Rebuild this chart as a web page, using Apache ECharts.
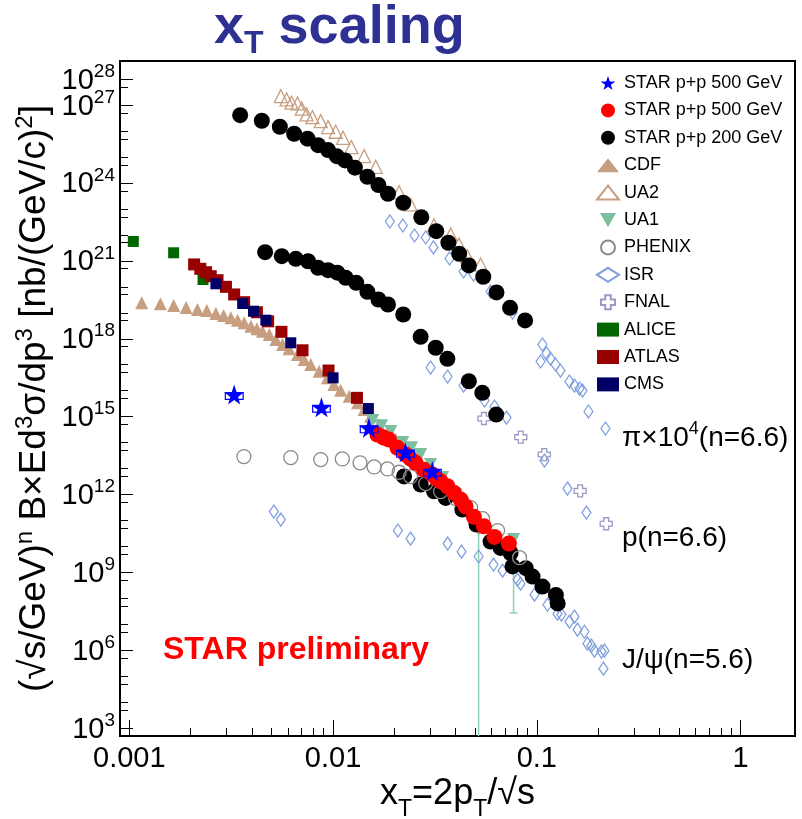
<!DOCTYPE html>
<html>
<head>
<meta charset="utf-8">
<script src="https://cdn.jsdelivr.net/npm/echarts@6/dist/echarts.min.js"></script>
<style>
  html, body { margin: 0; padding: 0; background: #fff; }
  #c { width: 802px; height: 819px; }
</style>
</head>
<body>
<div id="c"></div>
<script>
// Points are [x_T, (sqrt(s)/GeV)^n * B * E d3sigma/dp3]
const starStar500 = [[0.00327,7.1e15],[0.00877,2.3e15],[0.0150,3.7e14],[0.0227,4.25e13],[0.0307,7.9e12]];
// systematic boxes of the starred points: [xLow, xHigh, yLow, yHigh]
const starStar500Sys = [[0.00296,0.00362,4.6e15,8.5e15],[0.00794,0.00969,1.5e15,2.75e15],[0.0136,0.0166,2.4e14,4.4e14],[0.0205,0.0251,2.75e13,5.1e13],[0.0278,0.0339,5.1e12,9.4e12]];
const starRed500 = [[0.0165,2.04e14],[0.0177,1.56e14],[0.0188,1.31e14],[0.0207,6.3e13],[0.0227,3.46e13],[0.0240,2.43e13],[0.0254,1.66e13],[0.0279,9.1e12],[0.0307,5.9e12],[0.0322,4.1e12],[0.0337,3.24e12],[0.0364,2.08e12],[0.0392,1.16e12],[0.0423,6.4e11],[0.0447,3.52e11],[0.0491,1.38e11],[0.0550,5.97e10],[0.0620,2.33e10],[0.0729,1.29e10]];
const star200Pion = [[0.00350,4.1e26],[0.00447,2.5e26],[0.00548,1.47e26],[0.00644,7.9e25],[0.00749,5.1e25],[0.00844,2.87e25],[0.00945,1.85e25],[0.01043,1.08e25],[0.01145,7.4e24],[0.0128,3.9e24],[0.01474,1.74e24],[0.0167,8.3e23],[0.0186,3.85e23],[0.0221,1.73e23],[0.0271,4.8e22],[0.0321,1.39e22],[0.0368,5.0e21],[0.0416,1.87e21],[0.0464,6.7e20],[0.0546,2.44e20],[0.0634,6.1e19],[0.0739,1.55e19],[0.0876,5.1e18]];
const star200Proton = [[0.00464,2.16e21],[0.0056,1.52e21],[0.00656,1.2e21],[0.00754,9.7e20],[0.00844,5.4e20],[0.00945,4.4e20],[0.0105,3.5e20],[0.01154,2.23e20],[0.0130,1.43e20],[0.01474,6.4e19],[0.0167,3.25e19],[0.0186,2.09e19],[0.0221,8.6e18],[0.0269,1.19e18],[0.0319,4.5e17],[0.0364,1.69e17],[0.0464,2.31e16],[0.0540,8.3e15],[0.0632,1.2e15]];
const star200Jpsi = [[0.0223,5.0e12],[0.0269,2.42e12],[0.0313,1.33e12],[0.0357,7.4e11],[0.0431,2.63e11],[0.0506,6.95e10],[0.0593,1.54e10],[0.0664,8.8e9],[0.0743,5.6e9],[0.0760,1.7e9],[0.0883,1.46e9],[0.0953,6.9e8],[0.1066,2.84e8],[0.124,1.36e8],[0.1266,6.4e7]];
const cdf = [[0.00115,2.43e19],[0.00142,2.22e19],[0.00165,1.91e19],[0.0019,1.6e19],[0.00216,1.34e19],[0.0024,1.22e19],[0.00266,9.4e18],[0.0029,7.9e18],[0.00315,6.4e18],[0.0034,5.2e18],[0.00366,4.1e18],[0.00395,3.04e18],[0.00423,2.42e18],[0.0045,1.95e18],[0.00486,1.46e18],[0.00524,9.4e17],[0.00565,6.0e17],[0.00608,4.1e17],[0.00669,2.47e17],[0.00721,1.58e17],[0.00777,1.02e17],[0.00854,5.6e16],[0.00939,3.13e16],[0.0101,1.73e16],[0.0109,1.04e16],[0.012,6.1e15],[0.0132,3.4e15],[0.0142,1.88e15],[0.0153,1.04e15],[0.0168,4.95e14],[0.0185,2.37e14],[0.0203,1.31e14]];
const ua2 = [[0.00554,2.2e27],[0.00591,1.66e27],[0.00625,1.24e27],[0.00669,1.16e27],[0.00702,7.3e26],[0.00741,4.4e26],[0.00792,3.44e26],[0.0087,2.42e26],[0.00945,1.42e26],[0.0103,9.4e25],[0.0112,5.5e25],[0.0123,2.4e25],[0.0142,1.08e25],[0.0162,4.2e24],[0.0211,4.4e23],[0.024,1.49e23],[0.0313,2.37e22],[0.0378,1.04e22],[0.0415,4.3e21],[0.0456,1.52e21],[0.053,7.3e20]];
const ua1 = [[0.01565,7.1e14],[0.0173,4.5e14],[0.0192,2.67e14],[0.022,1.0e14],[0.0243,6.4e13],[0.0269,3.46e13],[0.0301,1.43e13],[0.0345,4.5e12],[0.04,1.0e12],[0.0452,2.63e11],[0.0518,4.5e10],[0.0769,1.84e10]];
// [x_T, lower, upper, draw end cap]
const ua1Errors = [[0.0518,500,4.5e10,0],[0.0769,2.75e7,1.84e10,1]];
const phenix = [[0.00365,2.9e13],[0.0062,2.65e13],[0.0087,2.22e13],[0.0111,2.36e13],[0.01356,1.66e13],[0.0159,1.16e13],[0.0185,9.7e12],[0.0211,7.2e12],[0.024,4.9e12],[0.0285,2.64e12],[0.0337,1.3e12],[0.04,7.0e11],[0.0473,3.14e11],[0.0542,1.18e11],[0.0642,4.1e10],[0.0823,3.7e9]];
const isrPion = [[0.019,3.3e22],[0.022,2.31e22],[0.0251,9.5e21],[0.0285,8.0e21],[0.0311,3.3e21],[0.0373,1.24e21],[0.0437,3.9e20],[0.0489,2.99e20],[0.0593,6.6e19],[0.076,1.03e19],[0.1043,1.33e17],[0.1066,6.0e17],[0.1116,2.7e17],[0.1167,1.73e17],[0.1235,1.02e17],[0.1306,5.97e16],[0.1446,2.25e16],[0.153,1.58e16],[0.162,1.21e16],[0.1675,1.01e16],[0.1792,1.57e15],[0.2172,3.48e14]];
const isrProton = [[0.0301,7.8e16],[0.0365,3.5e16],[0.0437,1.58e16],[0.0554,4.2e15],[0.062,2.45e15],[0.071,9.2e14],[0.109,2.03e13],[0.1414,1.69e12],[0.1752,2.01e11]];
const isrJpsi = [[0.00512,2.2e11],[0.00554,1.08e11],[0.0208,4.1e10],[0.024,2.0e10],[0.0365,1.29e10],[0.0427,6.3e9],[0.0518,4.1e9],[0.0613,2.0e9],[0.0679,1.17e9],[0.0804,5.3e8],[0.0832,3.7e8],[0.0974,1.39e8],[0.1128,5.7e7],[0.1263,2.58e7],[0.1321,2.37e7],[0.1446,1.27e7],[0.153,1.98e7],[0.1583,6.25e6],[0.1713,5.2e6],[0.1772,1.8e6],[0.1853,1.51e6],[0.1918,9.7e5],[0.2075,8.9e5],[0.2147,9.7e5],[0.2123,1.96e5]];
const fnal = [[0.055,8.5e14],[0.0834,1.62e14],[0.1088,3.46e13],[0.1632,1.38e12],[0.2191,7.5e10]];
const alice = [[0.001046,5.6e21],[0.00165,2.05e21],[0.0023,1.92e20]];
const atlas = [[0.00208,7.3e20],[0.00223,4.95e20],[0.00238,3.66e20],[0.00251,2.57e20],[0.00271,1.8e20],[0.00298,1.0e20],[0.00327,5.1e19],[0.00366,2.56e19],[0.00423,1.05e19],[0.0048,4.7e18],[0.00558,1.85e18],[0.00708,3.6e17],[0.0095,5.97e16],[0.0131,5.3e15]];
const cms = [[0.00266,1.31e20],[0.0036,2.28e19],[0.00407,1.15e19],[0.00468,5.2e18],[0.0062,7.0e17],[0.01,3.13e16],[0.0149,2.05e15]];

const legendNames = ['STAR p+p 500 GeV', 'STAR p+p 500 GeV ', 'STAR p+p 200 GeV', 'CDF', 'UA2', 'UA1', 'PHENIX', 'ISR', 'FNAL', 'ALICE', 'ATLAS', 'CMS'];

// axis ranges and tick positions
const X_MIN = 0.0009, X_MAX = 1.85;
const Y_MIN = 500, Y_MAX = 5e28;
const yLabelTicks = [1e3, 1e6, 1e9, 1e12, 1e15, 1e18, 1e21, 1e24, 1e27, 1e28];
const yMinorTicks = [];
for (let e = 3; e <= 28; e++) {
  if (yLabelTicks.indexOf(Math.pow(10, e)) < 0) yMinorTicks.push(Math.pow(10, e));
  if (e < 28) yMinorTicks.push(5 * Math.pow(10, e));
}
// the topmost label sits close to its neighbour, so it is placed by the overlay axis
const yLabelsMain = yLabelTicks.slice(0, -1);
const yLabelsTop = yLabelTicks.slice(-1);

const FONT = '"Liberation Sans", Arial, Helvetica, sans-serif';
const STAR = 'path://M50,0 L61.8,35.1 L98.1,35.1 L68.8,56.7 L79.4,91 L50,70 L20.6,91 L31.2,56.7 L1.9,35.1 L38.2,35.1 Z';
const DOWN_TRI = 'path://M0,0 L10,0 L5,8.66 Z';
const CROSS = 'path://M3,0 L7,0 L7,3 L10,3 L10,7 L7,7 L7,10 L3,10 L3,7 L0,7 L0,3 L3,3 Z';
const CLEAR = 'rgba(0,0,0,0)';
const TAN = '#c89e80';

function scatter(name, data, symbol, size, fill, border, z) {
  return {
    type: 'scatter', name: name, data: data, symbol: symbol, symbolSize: size, z: z,
    silent: true, emphasis: { disabled: true },
    itemStyle: border
      ? { color: fill, borderColor: border, borderWidth: 1.3, opacity: 1 }
      : { color: fill, opacity: 1 }
  };
}

const supRich = (base, sup, raise) => ({
  b: { fontSize: base, fontFamily: FONT, color: '#000', lineHeight: base + 2, verticalAlign: 'bottom' },
  s: { fontSize: sup, fontFamily: FONT, color: '#000', lineHeight: sup, verticalAlign: 'bottom', padding: [0, 0, raise, 0] }
});

const yLabelRich = {
  b: { fontSize: 29, fontFamily: FONT, color: '#000', lineHeight: 20, verticalAlign: 'bottom', padding: [4, 0, 0, 0] },
  s: { fontSize: 19, fontFamily: FONT, color: '#000', lineHeight: 10, verticalAlign: 'bottom', padding: [0, 0, 14, 0] }
};
const powerLabel = v => '{b|10}{s|' + Math.round(Math.log10(v)) + '}';

const chart = echarts.init(document.getElementById('c'), null, { renderer: 'canvas', width: 802, height: 819 });

const option = {
  animation: false,
  backgroundColor: '#fff',
  title: {
    text: '{b|x}{u|T}{b| scaling}',
    left: 214, top: 1, padding: 0,
    textStyle: {
      rich: {
        b: { fontSize: 54, fontWeight: 'bold', fontFamily: FONT, color: '#2e3192', lineHeight: 52, verticalAlign: 'top' },
        u: { fontSize: 32, fontWeight: 'bold', fontFamily: FONT, color: '#2e3192', lineHeight: 32, verticalAlign: 'top', padding: [27, 0, 0, 0] }
      }
    }
  },
  grid: {
    left: 120, right: 7, top: 61, bottom: 83,
    show: true, borderColor: '#000', borderWidth: 2, backgroundColor: 'transparent',
    containLabel: false, outerBoundsMode: 'none'
  },
  legend: {
    orient: 'vertical', left: 596, top: 74, padding: 0,
    itemWidth: 22, itemHeight: 14, itemGap: 9.4,
    selectedMode: false,
    textStyle: { fontSize: 18, fontFamily: FONT, color: '#000', lineHeight: 18 },
    data: legendNames
  },
  xAxis: {
    type: 'log', logBase: 10, min: X_MIN, max: X_MAX,
    axisLine: { show: true, onZero: false, lineStyle: { color: '#000', width: 2 } },
    axisTick: { show: true, inside: true, length: 16, lineStyle: { color: '#000', width: 1 } },
    minorTick: { show: true, splitNumber: 9, length: 8, lineStyle: { color: '#000', width: 1 } },
    axisLabel: { fontSize: 29, fontFamily: FONT, color: '#000', margin: 8, showMinLabel: false, showMaxLabel: false },
    splitLine: { show: false }, minorSplitLine: { show: false },
    name: '{b|x}{u|T}{b|=2p}{u|T}{b|/√s}',
    nameLocation: 'middle', nameGap: 40, nameMoveOverlap: false,
    nameTextStyle: {
      rich: {
        b: { fontSize: 36, fontFamily: FONT, color: '#000', lineHeight: 38, verticalAlign: 'top' },
        u: { fontSize: 23, fontFamily: FONT, color: '#000', lineHeight: 23, verticalAlign: 'top', padding: [22, 0, 0, 0] }
      }
    }
  },
  yAxis: [{
    type: 'log', logBase: 10, min: Y_MIN, max: Y_MAX,
    axisLine: { show: true, onZero: false, lineStyle: { color: '#000', width: 2 } },
    axisTick: { show: true, inside: true, length: 13, customValues: yLabelTicks, lineStyle: { color: '#000', width: 1 } },
    axisLabel: {
      customValues: yLabelsMain, margin: 5, padding: [12, 0, 0, 0], showMinLabel: true, showMaxLabel: true,
      formatter: powerLabel, rich: yLabelRich
    },
    splitLine: { show: false },
    name: '{b|(√s/GeV)}{s|n}{b| B×Ed}{s|3}{b|σ/dp}{s|3}{b| [nb/(GeV/c)}{s|2}{b|]}',
    nameLocation: 'middle', nameRotate: 90, nameGap: 67, nameMoveOverlap: false,
    nameTextStyle: { rich: supRich(37, 24, 16) }
  }, {
    type: 'log', logBase: 10, min: Y_MIN, max: Y_MAX, position: 'left', offset: 0,
    axisLine: { show: false },
    axisTick: { show: true, inside: true, length: 8, customValues: yMinorTicks, lineStyle: { color: '#000', width: 1 } },
    axisLabel: {
      customValues: yLabelsTop, margin: 5, padding: [12, 0, 0, 0], showMinLabel: true, showMaxLabel: true,
      formatter: powerLabel, rich: yLabelRich
    },
    splitLine: { show: false }
  }],
  graphic: [
    { type: 'text', x: 163, y: 650, silent: true,
      style: { text: 'STAR preliminary', fill: '#ff0000', font: 'bold 32px "Liberation Sans", Arial, sans-serif', verticalAlign: 'middle' } },
    { type: 'text', x: 622, y: 437, silent: true,
      style: { text: '{a|π×10}{s|4}{a|(n=6.6)}', verticalAlign: 'middle', fill: '#000',
        rich: { a: { fontSize: 28, fontFamily: FONT, fill: '#000', lineHeight: 30, verticalAlign: 'bottom' },
                s: { fontSize: 18, fontFamily: FONT, fill: '#000', lineHeight: 18, verticalAlign: 'bottom', padding: [0, 0, 14, 0] } } } },
    { type: 'text', x: 622, y: 538, silent: true,
      style: { text: 'p(n=6.6)', verticalAlign: 'middle', fill: '#000', font: '28px "Liberation Sans", Arial, sans-serif' } },
    { type: 'text', x: 622, y: 660, silent: true,
      style: { text: 'J/ψ(n=5.6)', verticalAlign: 'middle', fill: '#000', font: '28px "Liberation Sans", Arial, sans-serif' } }
  ],
  series: [
    scatter(legendNames[0], starStar500, STAR, 20, '#0000ff', null, 9),
    scatter(legendNames[1], starRed500, 'circle', 16, '#ff0000', null, 8),
    scatter(legendNames[2], star200Pion.concat(star200Proton, star200Jpsi), 'circle', 16, '#000000', null, 6),
    scatter(legendNames[3], cdf, 'triangle', 13, TAN, null, 4),
    scatter(legendNames[4], ua2, 'triangle', 13, CLEAR, TAN, 4),
    scatter(legendNames[5], ua1, DOWN_TRI, 13, '#7cbf9f', null, 5),
    scatter(legendNames[6], phenix, 'circle', 14, CLEAR, '#8a8a8a', 7),
    scatter(legendNames[7], isrPion.concat(isrProton, isrJpsi), 'diamond', [9, 13], CLEAR, '#809fe0', 3),
    scatter(legendNames[8], fnal, CROSS, 12, CLEAR, '#9a98c4', 3),
    scatter(legendNames[9], alice, 'rect', 11, '#006600', null, 5),
    scatter(legendNames[10], atlas, 'rect', 12, '#990000', null, 5),
    scatter(legendNames[11], cms, 'rect', 11, '#000066', null, 5),
    {
      type: 'custom', name: 'UA1 errors', silent: true, z: 2,
      data: ua1Errors,
      encode: { x: 0, y: [1, 2] },
      renderItem: function (params, api) {
        const x = api.value(0);
        const lo = api.coord([x, api.value(1)]);
        const hi = api.coord([x, api.value(2)]);
        const st = { stroke: '#8fd0b4', lineWidth: 1.5 };
        const parts = [{ type: 'line', shape: { x1: lo[0], y1: lo[1], x2: hi[0], y2: hi[1] }, style: st }];
        if (api.value(3)) {
          parts.push({ type: 'line', shape: { x1: lo[0] - 4, y1: lo[1], x2: lo[0] + 4, y2: lo[1] }, style: st });
        }
        return { type: 'group', children: parts };
      }
    },
    {
      type: 'custom', name: 'STAR sys', silent: true, z: 9,
      data: starStar500Sys,
      encode: { x: [0, 1], y: [2, 3] },
      renderItem: function (params, api) {
        const a = api.coord([api.value(0), api.value(3)]);
        const b = api.coord([api.value(1), api.value(2)]);
        return {
          type: 'rect',
          shape: { x: a[0], y: a[1], width: b[0] - a[0], height: b[1] - a[1] },
          style: { fill: 'none', stroke: '#0000ff', lineWidth: 1.2 }
        };
      }
    }
  ]
};

chart.setOption(option);
</script>
</body>
</html>
